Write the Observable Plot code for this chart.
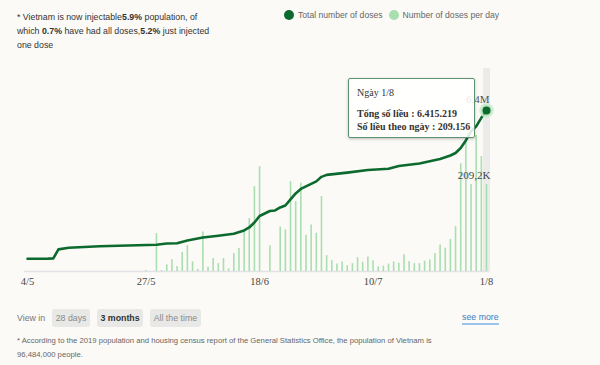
<!DOCTYPE html>
<html>
<head>
<meta charset="utf-8">
<script src="https://cdn.jsdelivr.net/npm/d3@7"></script>
<script src="https://cdn.jsdelivr.net/npm/@observablehq/plot@0.6"></script>
<style>
  html, body { margin: 0; padding: 0; background: #fbfaf6; }
  #wrap { position: relative; width: 600px; height: 365px; overflow: hidden; font-family: "Liberation Sans", Arial, sans-serif; }
  #note { position: absolute; left: 17px; top: 10px; width: 230px; font-size: 8.8px; line-height: 14px; color: #333; white-space: nowrap; }
  #note b { font-weight: bold; }
  #legend { position: absolute; left: 284px; top: 10px; font-size: 8.6px; color: #666; display: flex; align-items: center; white-space: nowrap; }
  #legend .sw { display: inline-block; width: 10px; height: 10px; border-radius: 50%; margin-right: 4px; }
  #legend .item { display: flex; align-items: center; margin-right: 6px; }
  #chart { position: absolute; left: 0; top: 60px; }
  #tip { position: absolute; box-sizing: border-box; width: 127px; height: 60px; background: rgba(255,255,255,0.86); border: 1px solid #5f9270; border-radius: 2px; box-shadow: 0 1px 3px rgba(0,0,0,0.25); font-family: "Liberation Serif", serif; color: #333; padding: 7px 0 0 8px; font-size: 10px; line-height: 13px; white-space: nowrap; }
  #tip .t { margin-bottom: 8px; }
  #tip .b { font-weight: bold; }
  #viewin { position: absolute; left: 17px; top: 309px; font-size: 8.8px; color: #777; display: flex; align-items: center; }
  #viewin .btn { background: #e8e8e6; border-radius: 3px; padding: 0 3.5px; height: 18px; line-height: 18px; margin-left: 7px; color: #8a8a8a; }
  #viewin .btn.on { color: #333; font-weight: bold; }
  #seemore { position: absolute; left: 462px; top: 312px; font-size: 8.8px; color: #3b7cc4; border-bottom: 2px solid #9cc3ea; line-height: 11px; }
  #foot { position: absolute; left: 17px; top: 334px; width: 455px; font-size: 7.7px; line-height: 14px; color: #666; }
</style>
</head>
<body>
<div id="wrap">
  <div id="note"><span>* Vietnam is now injectable</span><b>5.9%</b><span> population, of</span><br><span>which </span><b>0.7%</b><span> have had all doses,</span><b>5.2%</b><span> just injected</span><br><span>one dose</span></div>
  <div id="legend">
    <span class="item"><span class="sw" style="background:#0c6a2e"></span>Total number of doses</span>
    <span class="item"><span class="sw" style="background:#a9dfb0"></span>Number of doses per day</span>
  </div>
  <div id="chart"></div>
  <div id="viewin">View in<span class="btn">28 days</span><span class="btn on">3 months</span><span class="btn">All the time</span></div>
  <div id="seemore">see more</div>
  <div id="foot">* According to the 2019 population and housing census report of the General Statistics Office, the population of Vietnam is<br>96,484,000 people.</div>
</div>
<script>
// ---- data ----
const startDate = "2021-05-04";
const endDate = "2021-08-01";
// doses per day (thousands), one per day from 4/5 to 1/8; null = no bar
const dailyK = [
  null,null,null,null,null,null,null,null,null,null,
  null,null,null,null,null,null,null,null,null,null,
  null,null,null,2.4,null,91,2.4,16,28,12,
  46,62,23,5,95,10,31,19,31,6.5,
  43,55,96,127,204,252,null,62,null,107,
  100,216,168,212,87,112,92,180,38,26,
  18,23,14,19,33,22,35,26,11,13,
  18,23,20,40,24,19,19,25,28,43,
  64,56,77,108,259,310,209,327,276,209.156
];
// cumulative total doses (millions)
const totalDates = ["2021-05-04","2021-05-08","2021-05-09","2021-05-10","2021-05-12","2021-05-18","2021-05-29","2021-05-31","2021-06-02","2021-06-04","2021-06-07","2021-06-10","2021-06-13","2021-06-15","2021-06-16","2021-06-17","2021-06-18","2021-06-20","2021-06-21","2021-06-22","2021-06-23","2021-06-24","2021-06-25","2021-06-26","2021-06-27","2021-06-28","2021-06-29","2021-06-30","2021-07-01","2021-07-05","2021-07-09","2021-07-13","2021-07-15","2021-07-19","2021-07-23","2021-07-25","2021-07-26","2021-07-27","2021-07-28","2021-07-29","2021-07-30","2021-07-31","2021-08-01"];
const totalM = [0.506,0.512,0.52,0.88,0.944,1.008,1.064,1.116,1.128,1.235,1.355,1.422,1.502,1.634,1.753,1.952,2.211,2.41,2.43,2.55,2.63,2.87,3.11,3.29,3.39,3.49,3.59,3.77,3.85,3.94,4.04,4.09,4.20,4.30,4.48,4.62,4.72,4.92,5.22,5.58,5.78,6.12,6.415219];
const tickLabels = ["2021-05-04","2021-05-27","2021-06-18","2021-07-10","2021-08-01"];
const lastTotal = 6415219;
const lastDaily = 209156;
const lastTotalLabel = "6,4M";
const lastDailyLabel = "209,2K";

// ---- build ----
const parse = d3.utcParse("%Y-%m-%d");
const days = d3.utcDay.range(parse(startDate), d3.utcDay.offset(parse(endDate), 1));
const daily = days.map((d, i) => ({date: d, value: dailyK[i] == null ? null : dailyK[i] * 1000})).filter(d => d.value != null);
const totals = totalDates.map((d, i) => ({date: parse(d), total: totalM[i] * 1e6}));
const lastDate = parse(endDate);
// secondary axis ratio: total-doses units per daily-doses unit
const LINE_SCALE = 16.57;
const fmtTick = d => `${d.getUTCDate()}/${d.getUTCMonth() + 1}`;
const fmtVN = n => d3.format(",")(n).replace(/,/g, ".");

const plot = Plot.plot({
  width: 600,
  height: 235,
  marginTop: 3,
  marginLeft: 27,
  marginRight: 114,
  marginBottom: 24,
  style: {background: "transparent", fontFamily: "'Liberation Serif', serif", fontSize: "10.5px", color: "#444", overflow: "visible"},
  x: {type: "utc", domain: [parse(startDate), lastDate], ticks: tickLabels.map(parse), tickFormat: fmtTick, tickSize: 0, tickPadding: 6, label: null},
  y: {domain: [0, 500000], axis: null},
  marks: [
    Plot.ruleX([lastDate], {y1: 0, y2: 488000, stroke: "#ebebea", strokeWidth: 7}),
    Plot.ruleY([0], {x1: d3.utcHour.offset(parse(startDate), -14), x2: d3.utcHour.offset(lastDate, 16), stroke: "#e1e1e6", strokeWidth: 1.5}),
    Plot.ruleX(daily, {x: "date", y1: 0, y2: "value", stroke: "#a9dfb0", strokeWidth: 1.6}),
    Plot.line(totals, {x: "date", y: d => d.total / LINE_SCALE, stroke: "#0c6a2e", strokeWidth: 2.6}),
    Plot.text([lastDaily], {x: () => lastDate, y: d => d, text: () => lastDailyLabel, textAnchor: "end", dx: 4, dy: -9, fill: "#444", fontSize: 11}),
    Plot.text([lastTotal], {x: () => lastDate, y: d => d / LINE_SCALE, text: () => lastTotalLabel, textAnchor: "end", dx: 3, dy: -11, fill: "#555", fontSize: 11}),
    Plot.dot([lastTotal], {x: () => lastDate, y: d => d / LINE_SCALE, r: 6.5, fill: "#a9dfb0", fillOpacity: 0.7, stroke: "#cfeed3", strokeWidth: 1.5}),
    Plot.dot([lastTotal], {x: () => lastDate, y: d => d / LINE_SCALE, r: 4, fill: "#0c6a2e"})
  ]
});
document.getElementById("chart").appendChild(plot);

// tooltip anchored to the last point via the plot's scales
const sx = plot.scale("x"), sy = plot.scale("y");
const px = sx.apply(lastDate), py = sy.apply(lastTotal / LINE_SCALE) + 60;
const tip = document.createElement("div");
tip.id = "tip";
tip.style.left = (px - 138) + "px";
tip.style.top = (py - 32) + "px";
tip.innerHTML = `<div class="t">Ngày ${fmtTick(lastDate)}</div><div class="b">Tổng số liều : ${fmtVN(lastTotal)}</div><div class="b">Số liều theo ngày : ${fmtVN(lastDaily)}</div>`;
document.getElementById("wrap").appendChild(tip);
</script>
</body>
</html>
